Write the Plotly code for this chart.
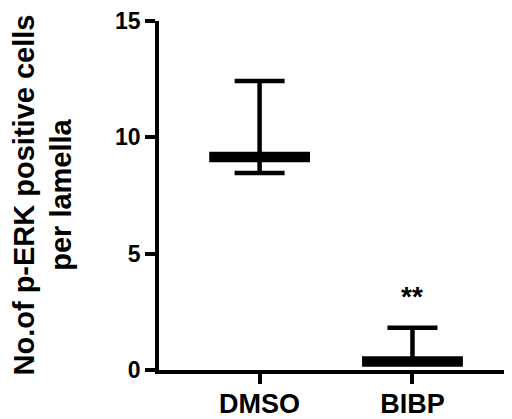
import plotly.graph_objects as go

categories = ["DMSO", "BIBP"]
means = [9.15, 0.36]
err_upper = [3.27, 1.46]
err_lower = [0.68, 0.0]
y_ticks = [0, 5, 10, 15]
y_title = "No.of p-ERK positive cells<br>per lamella"
sig_label = "**"
sig_y = 3.15

FONT = "Liberation Sans, Arial, sans-serif"
BODY = 8  # default page body margin offset

fig = go.Figure()
fig.add_trace(go.Scatter(
    x=categories, y=means, mode="markers",
    marker=dict(symbol="line-ew", size=72, color="black",
                line=dict(width=10.5, color="black")),
    error_y=dict(type="data", symmetric=False, array=err_upper,
                 arrayminus=err_lower, color="black", thickness=4.5, width=25),
    showlegend=False, hoverinfo="skip", cliponaxis=False,
))

fig.add_annotation(x=categories[1], y=sig_y, text=sig_label, showarrow=False,
                   font=dict(family=FONT, size=28, color="black", weight="bold"),
                   yanchor="middle", xanchor="center")

fig.add_annotation(xref="paper", yref="paper", x=0, y=0.5, text=y_title,
                   textangle=-90, showarrow=False, xanchor="center", yanchor="middle",
                   xshift=-117,
                   font=dict(family=FONT, size=29, color="black", weight="bold"))

fig.update_layout(
    width=512 - BODY, height=419 - BODY,
    margin=dict(l=159 - BODY, r=0, t=19 - BODY, b=46, pad=0),
    paper_bgcolor="white", plot_bgcolor="white",
    xaxis=dict(type="category", range=[-0.658, 1.651], showline=True,
               linecolor="black", linewidth=3.5, ticks="outside", ticklen=10,
               tickwidth=3.5, tickcolor="black", showgrid=False, zeroline=False,
               ticklabelstandoff=-3, ticklabeloverflow="allow",
               tickfont=dict(family=FONT, size=27, color="black", weight="bold")),
    yaxis=dict(range=[0, 15], tickvals=y_ticks, showline=True, linecolor="black",
               linewidth=3.5, ticks="outside", ticklen=10, tickwidth=3.5,
               tickcolor="black", showgrid=False, zeroline=False,
               ticklabeloverflow="allow",
               tickfont=dict(family=FONT, size=23, color="black", weight="bold")),
)

fig.write_html("out.html")
